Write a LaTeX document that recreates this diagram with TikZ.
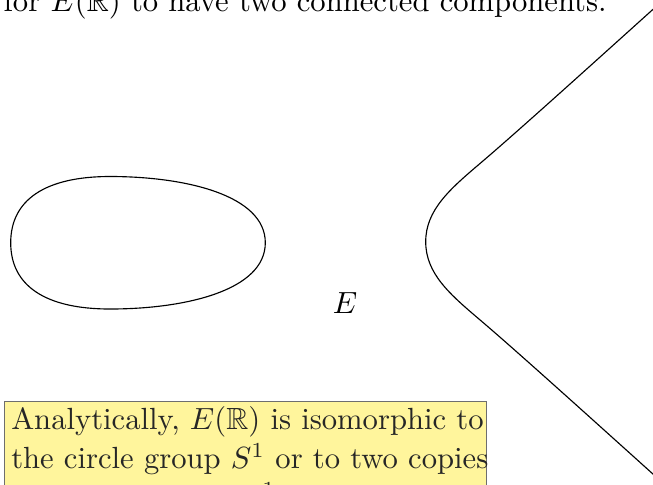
\documentclass[tikz,border=0pt]{standalone}
\usepackage{amssymb}
\definecolor{noteyellow}{HTML}{FFF59C}
\definecolor{noteborder}{HTML}{6E6E6E}
\definecolor{notetext}{HTML}{262626}
\newcommand{\fullline}[1]{\makebox[\linewidth][s]{#1}}
\begin{document}
\begin{tikzpicture}[x=0.3265pt,y=-0.3265pt,
  curve/.style={draw=black, line width=0.37pt},
  bigtext/.style={font=\fontsize{10}{12.73}\selectfont, inner sep=0pt},
  notebox/.style={bigtext, fill=noteyellow, draw=noteborder, line width=0.34pt,
    text=notetext, text width=153.1pt, inner xsep=2.2pt, inner ysep=1.75pt,
    align=center, anchor=north west}]
\useasboundingbox (0,0) rectangle (653,484);
\begin{scope}
\clip (0,0) rectangle (653,484);
% oval component
\draw[curve] (10.7,242.75) .. controls (10.7,200) and (45,176.5) .. (110,176.5)
  .. controls (185,176.5) and (265.3,195) .. (265.3,242.75)
  .. controls (265.3,290.5) and (185,309) .. (110,309)
  .. controls (45,309) and (10.7,285.5) .. cycle;
% unbounded component
\draw[curve] (700,516.4) .. controls (600,426.4) and (520,353.9) .. (480,319.9)
  .. controls (450,294.4) and (425.7,273.7) .. (425.7,241.7)
  .. controls (425.7,210) and (450,189) .. (480,163.5)
  .. controls (520,129.5) and (600,57) .. (700,-33);
\node[bigtext, anchor=base west] (top) at (3,11.7) {for $E(\mathbb{R})$ to have two connected components.};
\node[bigtext, anchor=base] (E) at (345,313) {$E$};
\node[notebox] (note) at (4,400.7) {\fullline{Analytically, $E(\mathbb{R})$ is isomorphic to}\\
  \fullline{the circle group $S^1$ or to two copies}\\ of $S^1$.};
\end{scope}
\end{tikzpicture}
\end{document}
